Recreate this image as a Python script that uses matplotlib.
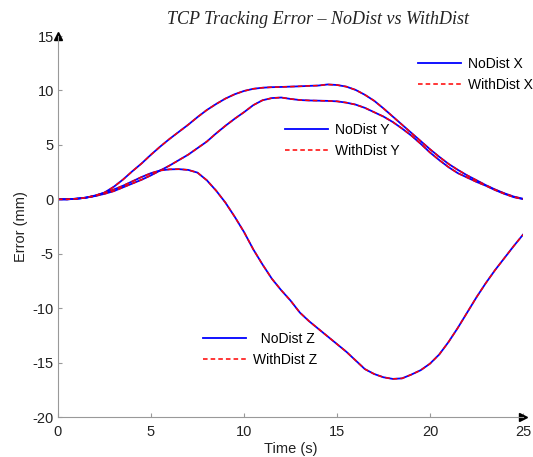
import numpy as np
import matplotlib
matplotlib.use("Agg")
import matplotlib.pyplot as plt

plt.rcParams["font.family"] = ["Liberation Sans", "DejaVu Sans"]
plt.rcParams["axes.unicode_minus"] = False

time_s = np.arange(0, 25.01, 0.5)

nodist_x = [0.0, 0.0, 0.06, 0.15, 0.32, 0.62, 1.15, 1.82, 2.58, 3.3, 4.1, 4.85, 5.55, 6.2,
            6.85, 7.55, 8.2, 8.75, 9.25, 9.65, 9.95, 10.15, 10.25, 10.3, 10.32, 10.35, 10.38,
            10.42, 10.45, 10.55, 10.5, 10.35, 10.05, 9.6, 9.05, 8.35, 7.6, 6.85, 6.1, 5.35,
            4.6, 3.9, 3.25, 2.7, 2.2, 1.75, 1.3, 0.9, 0.55, 0.25, 0.05]
nodist_y = [0.0, 0.0, 0.05, 0.15, 0.3, 0.5, 0.75, 1.1, 1.45, 1.8, 2.2, 2.65, 3.1, 3.6,
            4.1, 4.7, 5.3, 6.05, 6.75, 7.4, 8.0, 8.65, 9.1, 9.3, 9.35, 9.22, 9.12, 9.08,
            9.06, 9.04, 9.0, 8.88, 8.7, 8.4, 8.0, 7.6, 7.1, 6.5, 5.85, 5.1, 4.3, 3.6, 2.95,
            2.4, 2.0, 1.6, 1.25, 0.85, 0.5, 0.2, 0.02]
nodist_z = [0.0, 0.0, 0.05, 0.15, 0.35, 0.6, 0.9, 1.25, 1.65, 2.05, 2.4, 2.65, 2.75, 2.77,
            2.7, 2.45, 1.75, 0.8, -0.3, -1.6, -3.0, -4.6, -6.0, -7.3, -8.35, -9.3, -10.4,
            -11.2, -11.9, -12.6, -13.3, -14.0, -14.8, -15.6, -16.05, -16.35, -16.5, -16.45,
            -16.1, -15.7, -15.1, -14.25, -13.1, -11.8, -10.4, -9.0, -7.7, -6.5, -5.4, -4.3,
            -3.25]
# the disturbed runs overlap the undisturbed ones at this scale
withdist_x = list(nodist_x)
withdist_y = list(nodist_y)
withdist_z = list(nodist_z)

fig = plt.figure(figsize=(5.33, 4.57), dpi=100)
ax = fig.add_axes([0.1088, 0.0875, 0.8724, 0.8337])

blue_kw = dict(color="#0000ff", lw=1.3, linestyle="-")
red_kw = dict(color="#ff0000", lw=1.1, linestyle=(0, (3, 2)))

lx1, = ax.plot(time_s, nodist_x, **blue_kw)
lx2, = ax.plot(time_s, withdist_x, **red_kw)
ly1, = ax.plot(time_s, nodist_y, **blue_kw)
ly2, = ax.plot(time_s, withdist_y, **red_kw)
lz1, = ax.plot(time_s, nodist_z, **blue_kw)
lz2, = ax.plot(time_s, withdist_z, **red_kw)

ax.set_xlim(0, 25)
ax.set_ylim(-20, 15)
ax.set_xticks([0, 5, 10, 15, 20, 25])
ax.set_yticks([-20, -15, -10, -5, 0, 5, 10, 15])

for s in ["top", "right"]:
    ax.spines[s].set_visible(False)
for s in ["left", "bottom"]:
    ax.spines[s].set_color("#999999")
    ax.spines[s].set_linewidth(0.8)
ax.tick_params(direction="in", length=3, color="#999999", labelsize=10.5,
               labelcolor="#222222")
ax.tick_params(axis="x", pad=6)
ax.tick_params(axis="y", pad=3)

# arrow heads at the axis ends
ax.plot(0, 1, marker="^", color="black", markersize=6, transform=ax.transAxes, clip_on=False)
ax.plot(1, 0, marker=">", color="black", markersize=6, transform=ax.transAxes, clip_on=False)

ax.set_xlabel("Time (s)", fontsize=10.5, color="#222222", labelpad=2)
ax.set_ylabel("Error (mm)", fontsize=10.5, color="#222222", labelpad=3)

fig.text(318 / 533, 1 - 19 / 457, "TCP Tracking Error \u2013 NoDist vs WithDist",
         ha="center", va="center", fontsize=13, style="italic",
         family="Liberation Serif", color="#222222")

leg_kw = dict(frameon=False, fontsize=10, handlelength=3.1, handletextpad=0.5,
              labelspacing=0.5, borderpad=0, borderaxespad=0, loc="upper left")
legx = ax.legend([lx1, lx2], ["NoDist X", "WithDist X"], bbox_to_anchor=(0.774, 0.944), **leg_kw)
ax.add_artist(legx)
legy = ax.legend([ly1, ly2], ["NoDist Y", "WithDist Y"], bbox_to_anchor=(0.488, 0.771), **leg_kw)
ax.add_artist(legy)
legz = ax.legend([lz1, lz2], ["  NoDist Z", "WithDist Z"], bbox_to_anchor=(0.312, 0.223), **leg_kw)

fig.savefig("out.png", dpi=100)
